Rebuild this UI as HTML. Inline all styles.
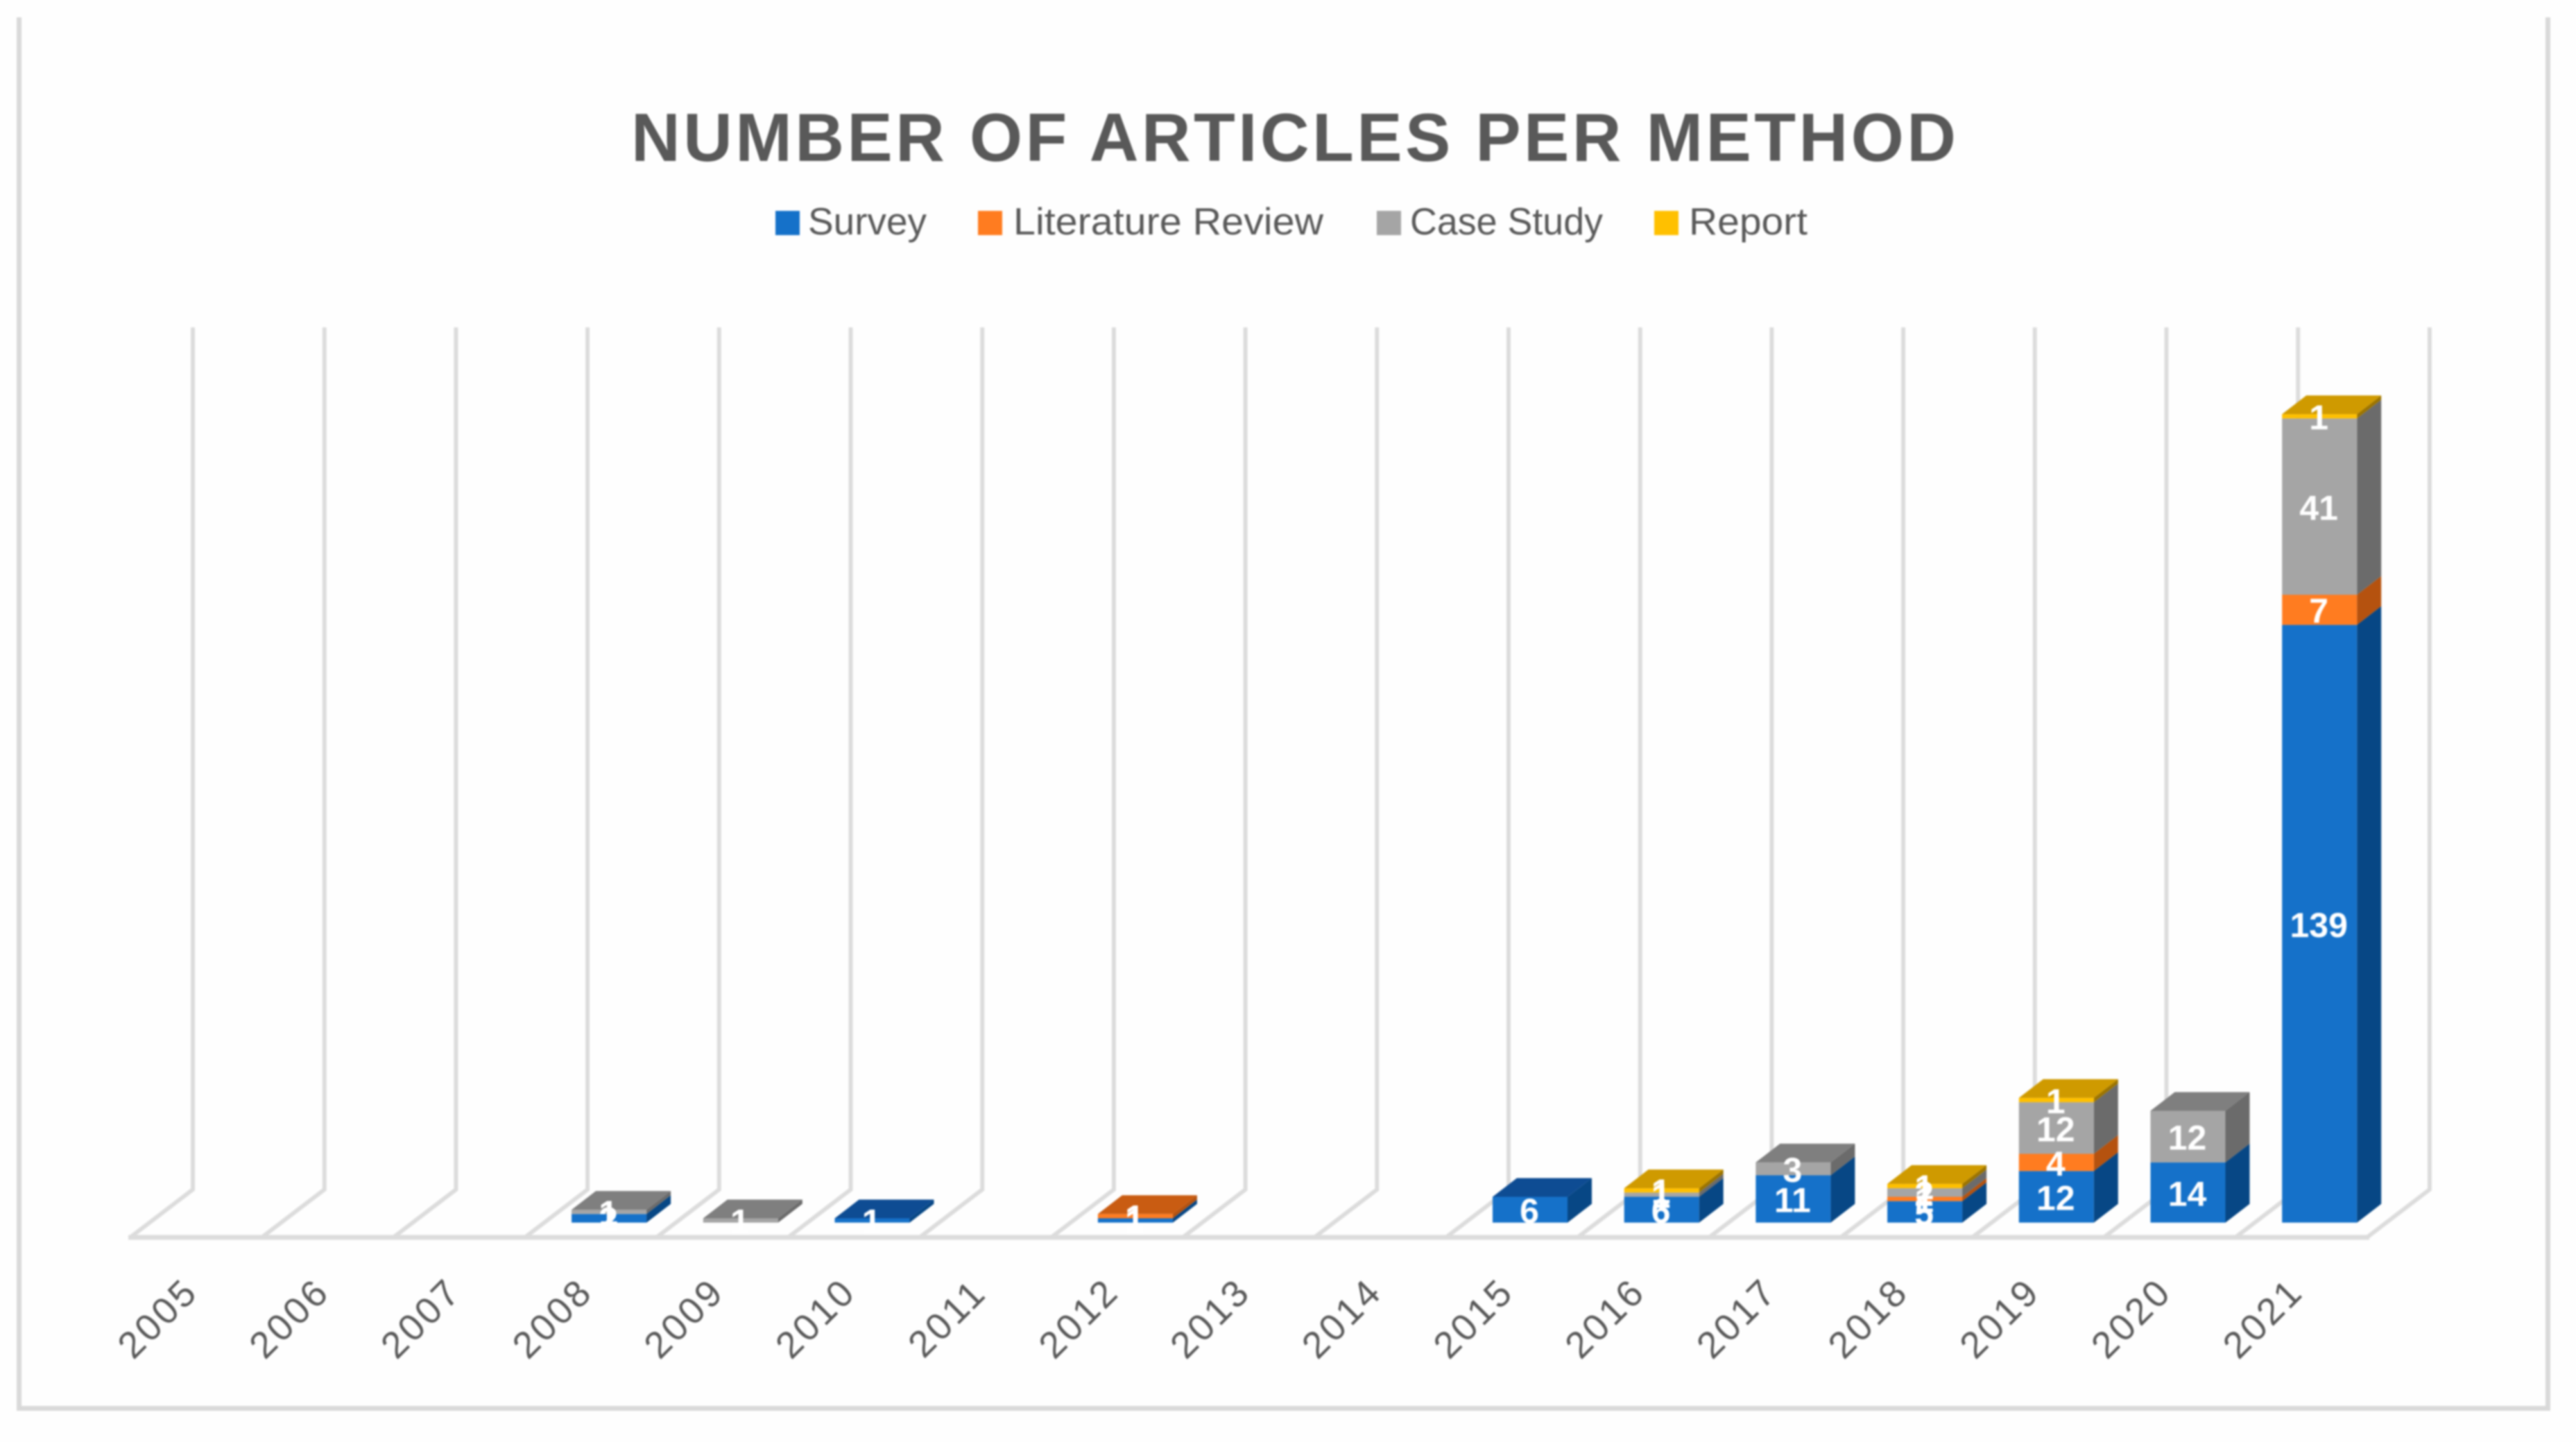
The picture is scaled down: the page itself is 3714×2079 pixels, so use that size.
<!DOCTYPE html>
<html lang="en">
<head>
<meta charset="utf-8">
<title>Number of Articles per Method</title>
<style>
html,body{margin:0;padding:0;background:#fff;}
body{width:3714px;height:2079px;overflow:hidden;}
svg{display:block;filter:blur(1.2px);}
text{font-family:"Liberation Sans",sans-serif;}
</style>
</head>
<body>
<svg id="chart" xmlns="http://www.w3.org/2000/svg" width="3714" height="2079" viewBox="0 0 3714 2079">
  <rect x="0" y="0" width="3714" height="2079" fill="#fefefe"/>
  <path d="M27.500 25V2030.500H3673.500V25" fill="none" stroke="#d9d9d9" stroke-width="7"/>
  <text x="910" y="232" font-size="98" font-weight="700" fill="#595959" textLength="1910" lengthAdjust="spacing">NUMBER OF ARTICLES PER METHOD</text>
  <g>
    <g>
      <rect x="1118" y="304" width="35" height="35" fill="#1571c9"/>
      <text x="1165" y="338" font-size="55" fill="#595959" textLength="171" lengthAdjust="spacingAndGlyphs">Survey</text>
    </g>
    <g>
      <rect x="1410" y="304" width="35" height="35" fill="#ff7c20"/>
      <text x="1461" y="338" font-size="55" fill="#595959" textLength="447" lengthAdjust="spacingAndGlyphs">Literature Review</text>
    </g>
    <g>
      <rect x="1985" y="304" width="35" height="35" fill="#a5a5a5"/>
      <text x="2033" y="338" font-size="55" fill="#595959" textLength="278" lengthAdjust="spacingAndGlyphs">Case Study</text>
    </g>
    <g>
      <rect x="2385" y="304" width="35" height="35" fill="#ffc000"/>
      <text x="2435" y="338" font-size="55" fill="#595959" textLength="171" lengthAdjust="spacingAndGlyphs">Report</text>
    </g>
  </g>
  <g id="walls"></g>
  <g id="bars"></g>
  <g id="values"></g>
  <g id="ticks"></g>
</svg>
<script>
var categories = ["2005","2006","2007","2008","2009","2010","2011","2012","2013","2014","2015","2016","2017","2018","2019","2020","2021"];
var survey           = [0,0,0,2,0,1,0,1,0,0,6,6,11,5,12,14,139];
var literatureReview = [0,0,0,0,0,0,0,1,0,0,0,0,0,1,4,0,7];
var caseStudy        = [0,0,0,1,1,0,0,0,0,0,0,1,3,2,12,12,41];
var report           = [0,0,0,0,0,0,0,0,0,0,0,1,0,1,1,0,1];

var seriesNames = ["survey","literature-review","case-study","report"];
var seriesValues = [survey, literatureReview, caseStudy, report];
var frontColors = ["#1571c9","#ff7c20","#a5a5a5","#ffc000"];
var sideColors = ["#074785","#b5520f","#6b6b6b","#9c7400"];
var topColors = ["#0e4c93","#c95c12","#7f7f7f","#cf9a00"];

var NS = "http://www.w3.org/2000/svg";
var STEP = 189.7, BAR_W = 108, DEPTH_X = 35, DEPTH_Y = 27;
function xBar(i){ return 255 + i * STEP; }
function xWall(i){ return 278 + i * STEP; }
function xFloor(i){ return 189 + i * STEP; }
function xTick(i){ return 227 + i * STEP; }
function yVal(v){ return 1762.7 - v * 6.2; }

var walls = document.getElementById("walls");
var bars = document.getElementById("bars");
var valuesGroup = document.getElementById("values");
var ticks = document.getElementById("ticks");

for (var g = 0; g <= categories.length; g++) {
  var wall = document.createElementNS(NS, "path");
  
  
  wall.setAttribute("d", "M" + xWall(g) + " 472V1715L" + xFloor(g) + " 1783");
  wall.setAttribute("fill", "none");
  wall.setAttribute("stroke", "#dcdcdc");
  wall.setAttribute("stroke-width", "6");
  walls.appendChild(wall);
}
var baseLine = document.createElementNS(NS, "line");


baseLine.setAttribute("x1", 185);
baseLine.setAttribute("x2", xFloor(categories.length) + 2);
baseLine.setAttribute("y1", 1784);
baseLine.setAttribute("y2", 1784);
baseLine.setAttribute("stroke", "#dcdcdc");
baseLine.setAttribute("stroke-width", "7");
walls.appendChild(baseLine);

function poly(points, fill){
  var p = document.createElementNS(NS, "polygon");
  p.setAttribute("points", points.map(function(q){ return q[0] + "," + q[1]; }).join(" "));
  p.setAttribute("fill", fill);
  return p;
}

categories.forEach(function(cat, i){
  var x = xBar(i), running = 0, lastTop = null, lastSeries = -1;
  seriesValues.forEach(function(vals, s){
    var v = vals[i];
    if (!v) return;
    var yb = yVal(running), yt = yVal(running + v);
    var side = poly([[x+BAR_W,yb],[x+BAR_W+DEPTH_X,yb-DEPTH_Y],[x+BAR_W+DEPTH_X,yt-DEPTH_Y],[x+BAR_W,yt]], sideColors[s]);
    
    
    bars.appendChild(side);
    var front = document.createElementNS(NS, "rect");
    
    
    front.setAttribute("data-series", seriesNames[s]);
    front.setAttribute("data-year", cat);
    front.setAttribute("x", x);
    front.setAttribute("y", yt);
    front.setAttribute("width", BAR_W);
    front.setAttribute("height", yb - yt);
    front.setAttribute("fill", frontColors[s]);
    bars.appendChild(front);
    running += v;
    lastTop = yt;
    lastSeries = s;
  });
  if (lastSeries >= 0) {
    var top = poly([[x,lastTop],[x+DEPTH_X,lastTop-DEPTH_Y],[x+BAR_W+DEPTH_X,lastTop-DEPTH_Y],[x+BAR_W,lastTop]], topColors[lastSeries]);
    
    
    bars.appendChild(top);
  }
  running = 0;
  seriesValues.forEach(function(vals, s){
    var v = vals[i];
    if (!v) return;
    var label = document.createElementNS(NS, "text");
    
    
    label.setAttribute("x", x + BAR_W / 2 - 1);
    label.setAttribute("y", yVal(running + v / 2) + 19);
    label.setAttribute("text-anchor", "middle");
    label.setAttribute("font-size", "50");
    label.setAttribute("font-weight", "700");
    label.setAttribute("fill", "#ffffff");
    label.textContent = v;
    valuesGroup.appendChild(label);
    running += v;
  });
  var tick = document.createElementNS(NS, "text");
  
  
  tick.setAttribute("x", xTick(i));
  tick.setAttribute("y", 1900 + 19);
  tick.setAttribute("text-anchor", "middle");
  tick.setAttribute("font-size", "54");
  tick.setAttribute("letter-spacing", "4");
  tick.setAttribute("fill", "#595959");
  tick.setAttribute("transform", "rotate(-45 " + xTick(i) + " 1900)");
  tick.textContent = cat;
  ticks.appendChild(tick);
});
</script>
</body>
</html>
